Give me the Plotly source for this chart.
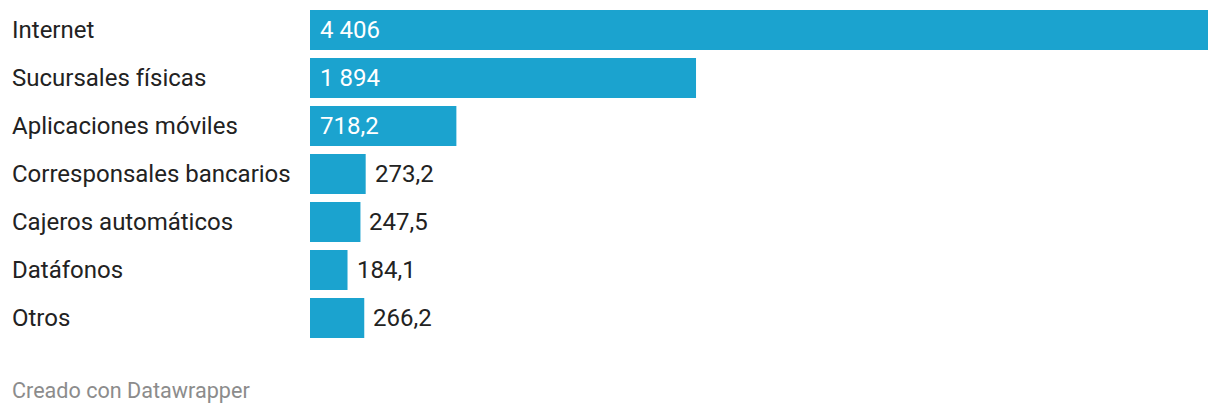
import plotly.graph_objects as go

categories = ["Internet", "Sucursales físicas", "Aplicaciones móviles",
              "Corresponsales bancarios", "Cajeros automáticos", "Datáfonos", "Otros"]
values = [4406, 1894, 718.2, 273.2, 247.5, 184.1, 266.2]
inside_threshold = 500

W, H = 1220, 414
ML, MR, MT, MB = 310, 12, 6, 72
plot_w = W - ML - MR

def fmt(v):
    if float(v).is_integer():
        return f"{int(v):,}".replace(",", " ")
    return f"{v:.1f}".replace(".", ",")

BAR = "#1ba3cf"
FONT = "Roboto, Arial, sans-serif"
FS = 24
LEFT = 10

fig = go.Figure(go.Bar(
    x=values, y=categories, orientation="h",
    marker=dict(color=BAR, line=dict(width=0)),
    hoverinfo="skip",
))

annotations = []
for c, v in zip(categories, values):
    annotations.append(dict(
        x=(LEFT - ML) / plot_w, xref="paper", y=c, yref="y",
        text=c, showarrow=False, xanchor="left", yanchor="middle",
        font=dict(family=FONT, size=FS, color="#222222"),
    ))
    if v >= inside_threshold:
        annotations.append(dict(
            x=0, xref="x", y=c, yref="y", xshift=8,
            text=fmt(v), showarrow=False, xanchor="left", yanchor="middle",
            font=dict(family=FONT, size=FS, color="#ffffff"),
        ))
    else:
        annotations.append(dict(
            x=v, xref="x", y=c, yref="y", xshift=7,
            text=fmt(v), showarrow=False, xanchor="left", yanchor="middle",
            font=dict(family=FONT, size=FS, color="#222222"),
        ))

annotations.append(dict(
    x=(LEFT - ML) / plot_w, xref="paper", y=-(390 - (H - MB)) / (H - MT - MB), yref="paper",
    text="Creado con Datawrapper", showarrow=False, xanchor="left", yanchor="middle",
    font=dict(family=FONT, size=21.6, color="#8c8c8c"),
))

fig.update_layout(
    width=W, height=H,
    margin=dict(l=ML, r=MR, t=MT, b=MB, pad=0),
    paper_bgcolor="white", plot_bgcolor="white",
    bargap=8 / 48,
    showlegend=False,
    xaxis=dict(range=[0, max(values)], visible=False, fixedrange=True),
    yaxis=dict(categoryorder="array", categoryarray=categories, autorange=False,
               range=[len(categories) - 0.5, -0.5], visible=False, fixedrange=True),
    annotations=annotations,
    font=dict(family=FONT),
)

fig.write_html("out.html", config={"displayModeBar": False},
               post_script="document.body.style.margin='0';document.body.style.overflow='hidden';")
